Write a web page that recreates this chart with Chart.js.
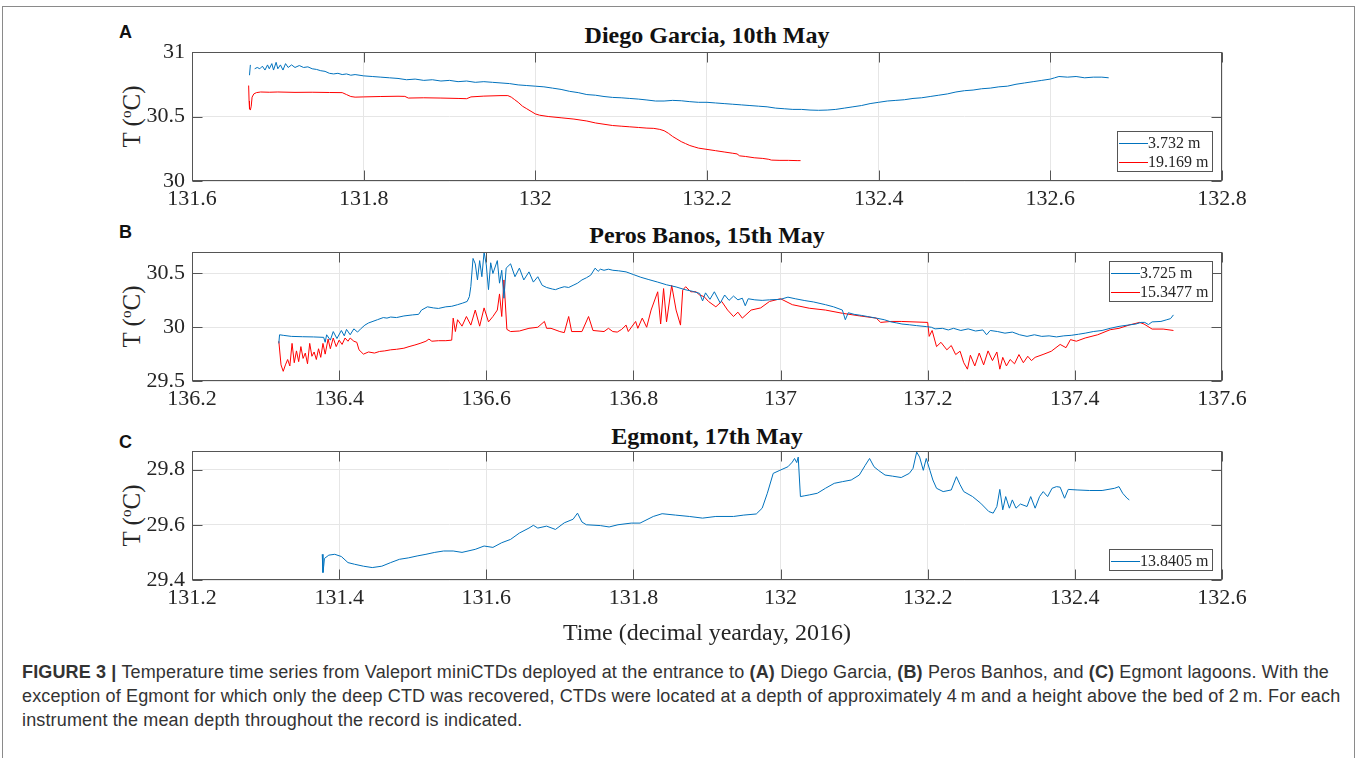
<!DOCTYPE html>
<html lang="en">
<head>
<meta charset="UTF-8" />
<title>Temperature time series</title>
<script src="https://cdn.jsdelivr.net/npm/chart.js"></script>
<style>
  body { margin: 0; width: 1358px; height: 758px; background: #fff; overflow: hidden; position: relative; font-family: "Liberation Serif", "Times New Roman", serif; color: #262626; }
  #frame { position: absolute; left: 2px; top: 6px; width: 1351px; height: 800px; border: 1px solid #8a8a8a; }
  .panel { position: absolute; left: 0; }
  .letter { position: absolute; font-family: "Liberation Sans", Arial, sans-serif; font-weight: bold; font-size: 18px; color: #111; }
  .title { position: absolute; left: 192px; width: 1030px; text-align: center; font-weight: bold; font-size: 24px; color: #111; line-height: 24px; }
  .ylab { position: absolute; width: 120px; text-align: center; font-size: 25px; line-height: 25px; transform: rotate(-90deg); transform-origin: center; }
  .ylab sup { font-size: 15px; vertical-align: 9px; line-height: 0; }
  #xlab { position: absolute; left: 192px; width: 1030px; top: 619px; text-align: center; font-size: 24px; line-height: 26px; }
  #caption { position: absolute; left: 22px; top: 660px; font-family: "Liberation Sans", Arial, sans-serif; font-size: 18px; letter-spacing: 0.15px; line-height: 24px; color: #333; white-space: nowrap; }
</style>
</head>
<body>
<div id="frame"></div>

<div class="letter" style="left:119px;top:22px;">A</div>
<div class="title" style="top:23px;">Diego Garcia, 10th May</div>
<div class="ylab" style="left:71px;top:104px;">T (<sup>o</sup>C)</div>
<canvas id="chartA" class="panel" width="1358" height="220" style="top:0px;"></canvas>

<div class="letter" style="left:119px;top:222px;">B</div>
<div class="title" style="top:223px;">Peros Banos, 15th May</div>
<div class="ylab" style="left:71px;top:304px;">T (<sup>o</sup>C)</div>
<canvas id="chartB" class="panel" width="1358" height="220" style="top:200px;"></canvas>

<div class="letter" style="left:119px;top:432px;">C</div>
<div class="title" style="top:424px;">Egmont, 17th May</div>
<div class="ylab" style="left:71px;top:503px;">T (<sup>o</sup>C)</div>
<canvas id="chartC" class="panel" width="1358" height="220" style="top:399px;"></canvas>

<div id="xlab">Time (decimal yearday, 2016)</div>

<div id="caption">
  <b>FIGURE 3 |</b> Temperature time series from Valeport miniCTDs deployed at the entrance to <b>(A)</b> Diego Garcia, <b>(B)</b> Peros Banhos, and <b>(C)</b> Egmont lagoons. With the<br>
  exception of Egmont for which only the deep CTD was recovered, CTDs were located at a depth of approximately 4&#8239;m and a height above the bed of 2&#8239;m. For each<br>
  instrument the mean depth throughout the record is indicated.
</div>

<script>
// ---- tick labels ----
const ticksA_x = [131.6, 131.8, 132, 132.2, 132.4, 132.6, 132.8];
const ticksA_y = [30, 30.5, 31];
const ticksB_x = [136.2, 136.4, 136.6, 136.8, 137, 137.2, 137.4, 137.6];
const ticksB_y = [29.5, 30, 30.5];
const ticksC_x = [131.2, 131.4, 131.6, 131.8, 132, 132.2, 132.4, 132.6];
const ticksC_y = [29.4, 29.6, 29.8];

// ---- A: Diego Garcia ----
const dgShallowTime = [131.667, 131.668, 131.670, 131.673, 131.676, 131.679, 131.682, 131.685, 131.688, 131.690,
  131.693, 131.695, 131.698, 131.700, 131.703, 131.706, 131.709, 131.712, 131.716, 131.720,
  131.725, 131.730, 131.735, 131.740, 131.745, 131.750, 131.755, 131.760, 131.765, 131.770,
  131.775, 131.780, 131.785, 131.790, 131.800, 131.810, 131.820, 131.830, 131.840, 131.850,
  131.860, 131.870, 131.880, 131.890, 131.900, 131.910, 131.920, 131.930, 131.940, 131.950,
  131.960, 131.970, 131.980, 131.990, 132.000, 132.010, 132.020, 132.030, 132.040, 132.050,
  132.060, 132.070, 132.080, 132.090, 132.100, 132.110, 132.120, 132.130, 132.140, 132.150,
  132.160, 132.170, 132.180, 132.190, 132.200, 132.210, 132.220, 132.230, 132.240, 132.250,
  132.260, 132.270, 132.280, 132.290, 132.300, 132.310, 132.320, 132.330, 132.340, 132.350,
  132.360, 132.370, 132.380, 132.390, 132.400, 132.410, 132.420, 132.430, 132.440, 132.450,
  132.460, 132.470, 132.480, 132.490, 132.500, 132.510, 132.520, 132.530, 132.540, 132.550,
  132.560, 132.570, 132.580, 132.590, 132.600, 132.605, 132.610, 132.620, 132.630, 132.640,
  132.650, 132.660, 132.668];
const dgShallowTemp = [30.82, 30.90, null, 30.87, 30.88, 30.87, 30.89, 30.86, 30.90, 30.87,
  30.91, 30.86, 30.92, 30.87, 30.90, 30.86, 30.91, 30.88, 30.90, 30.88,
  30.895, 30.88, 30.885, 30.87, 30.865, 30.855, 30.85, 30.835, 30.83, 30.835,
  30.825, 30.83, 30.82, 30.825, 30.815, 30.81, 30.805, 30.80, 30.795, 30.785,
  30.79, 30.78, 30.785, 30.775, 30.78, 30.77, 30.775, 30.765, 30.77, 30.765,
  30.76, 30.755, 30.745, 30.74, 30.735, 30.73, 30.72, 30.71, 30.695, 30.685,
  30.67, 30.665, 30.655, 30.648, 30.645, 30.64, 30.635, 30.628, 30.62, 30.62,
  30.625, 30.622, 30.615, 30.61, 30.61, 30.605, 30.60, 30.595, 30.59, 30.585,
  30.58, 30.575, 30.565, 30.56, 30.555, 30.555, 30.55, 30.548, 30.55, 30.555,
  30.565, 30.575, 30.585, 30.60, 30.61, 30.62, 30.625, 30.63, 30.64, 30.645,
  30.655, 30.665, 30.675, 30.69, 30.70, 30.705, 30.715, 30.72, 30.73, 30.735,
  30.75, 30.76, 30.77, 30.78, 30.79, 30.80, 30.81, 30.805, 30.81, 30.80,
  30.805, 30.805, 30.80];
const dgDeepTime = [131.666, 131.6665, 131.667, 131.668, 131.669, 131.670, 131.672, 131.675, 131.680, 131.690,
  131.700, 131.720, 131.740, 131.760, 131.775, 131.780, 131.785, 131.790, 131.800, 131.820,
  131.840, 131.848, 131.852, 131.870, 131.890, 131.910, 131.920, 131.925, 131.940, 131.960,
  131.968, 131.972, 131.976, 131.980, 131.985, 131.990, 131.995, 132.000, 132.005, 132.015,
  132.030, 132.045, 132.060, 132.070, 132.080, 132.090, 132.100, 132.110, 132.120, 132.130,
  132.138, 132.145, 132.150, 132.155, 132.160, 132.165, 132.170, 132.175, 132.180, 132.185,
  132.190, 132.200, 132.210, 132.220, 132.230, 132.235, 132.238, 132.245, 132.255, 132.265,
  132.272, 132.275, 132.285, 132.295, 132.305, 132.309];
const dgDeepTemp = [30.74, 30.62, 30.56, 30.55, 30.58, 30.65, 30.675, 30.685, 30.69, 30.688,
  30.69, 30.687, 30.688, 30.686, 30.685, 30.67, 30.655, 30.65, 30.652, 30.655,
  30.657, 30.656, 30.643, 30.645, 30.643, 30.64, 30.638, 30.652, 30.658, 30.662,
  30.662, 30.65, 30.63, 30.61, 30.58, 30.56, 30.54, 30.52, 30.51, 30.50,
  30.49, 30.48, 30.465, 30.45, 30.44, 30.43, 30.425, 30.42, 30.415, 30.41,
  30.408, 30.40, 30.39, 30.37, 30.345, 30.325, 30.305, 30.29, 30.275, 30.265,
  30.255, 30.245, 30.235, 30.225, 30.215, 30.21, 30.195, 30.19, 30.18, 30.175,
  30.168, 30.162, 30.16, 30.16, 30.158, 30.158];

// ---- B: Peros Banhos ----
const pbShallowTime = [136.318, 136.319, 136.324, 136.335, 136.350, 136.365, 136.379, 136.381, 136.383, 136.388,
  136.392, 136.397, 136.403, 136.407, 136.410, 136.415, 136.420, 136.425, 136.430, 136.435,
  136.440, 136.446, 136.452, 136.460, 136.465, 136.470, 136.478, 136.488, 136.500, 136.508,
  136.512, 136.520, 136.528, 136.535, 136.545, 136.553, 136.561, 136.568, 136.574, 136.577,
  136.579, 136.582, 136.585, 136.588, 136.591, 136.594, 136.597, 136.600, 136.603, 136.606,
  136.609, 136.615, 136.618, 136.621, 136.624, 136.627, 136.633, 136.639, 136.645, 136.651,
  136.658, 136.664, 136.670, 136.676, 136.682, 136.690, 136.694, 136.700, 136.706, 136.712,
  136.718, 136.724, 136.730, 136.736, 136.742, 136.748, 136.752, 136.755, 136.760, 136.766,
  136.772, 136.780, 136.790, 136.800, 136.810, 136.820, 136.833, 136.845, 136.858, 136.870,
  136.880, 136.890, 136.894, 136.898, 136.904, 136.910, 136.918, 136.924, 136.930, 136.936,
  136.942, 136.948, 136.952, 136.956, 136.965, 136.975, 136.985, 137.000, 137.010, 137.020,
  137.033, 137.045, 137.061, 137.072, 137.084, 137.088, 137.092, 137.100, 137.110, 137.118,
  137.130, 137.141, 137.150, 137.158, 137.165, 137.175, 137.185, 137.198, 137.205, 137.210,
  137.220, 137.228, 137.235, 137.245, 137.255, 137.265, 137.275, 137.280, 137.285, 137.295,
  137.305, 137.315, 137.325, 137.335, 137.345, 137.355, 137.365, 137.375, 137.385, 137.395,
  137.405, 137.414, 137.425, 137.437, 137.448, 137.460, 137.472, 137.483, 137.490, 137.495,
  137.500, 137.505, 137.517, 137.525, 137.530, 137.534];
const pbShallowTemp = [29.85, 29.93, 29.925, 29.915, 29.912, 29.91, 29.906, 29.86, 29.93, 29.88,
  29.96, 29.895, 29.97, 29.92, 29.98, 29.93, 29.985, 29.955, 29.99, 30.02,
  30.04, 30.055, 30.07, 30.09, 30.085, 30.095, 30.09, 30.105, 30.115, 30.12,
  30.16, 30.19, 30.18, 30.175, 30.19, 30.195, 30.21, 30.225, 30.24, 30.285,
  30.38, 30.64, 30.59, 30.44, 30.62, 30.47, 30.70, 30.58, 30.35, 30.60,
  30.50, 30.62, 30.41, 30.53, 30.27, 30.55, 30.59, 30.47, 30.55, 30.44,
  30.515, 30.42, 30.47, 30.39, 30.37, 30.355, 30.35, 30.365, 30.377, 30.37,
  30.39, 30.41, 30.44, 30.46, 30.485, 30.55, 30.52, 30.54, 30.53, 30.54,
  30.53, 30.525, 30.515, 30.49, 30.465, 30.445, 30.42, 30.395, 30.375, 30.35,
  30.335, 30.315, 30.245, 30.32, 30.26, 30.33, 30.225, 30.30, 30.25, 30.29,
  30.255, 30.27, 30.20, 30.265, 30.255, 30.25, 30.255, 30.26, 30.28, 30.265,
  30.248, 30.235, 30.21, 30.19, 30.16, 30.07, 30.135, 30.12, 30.11, 30.10,
  30.085, 30.07, 30.05, 30.04, 30.03, 30.023, 30.015, 30.006, 30.0, 29.985,
  29.99, 29.975, 29.99, 29.97, 29.985, 29.965, 29.975, 29.93, 29.97, 29.96,
  29.945, 29.955, 29.93, 29.915, 29.93, 29.915, 29.92, 29.91, 29.92, 29.925,
  29.935, 29.945, 29.96, 29.97, 29.99, 30.008, 30.02, 30.03, 30.045, 30.045,
  30.025, 30.05, 30.054, 30.07, 30.08, 30.115];
const pbDeepTime = [136.318, 136.321, 136.324, 136.327, 136.330, 136.333, 136.336, 136.339, 136.342, 136.345,
  136.348, 136.351, 136.354, 136.357, 136.360, 136.363, 136.366, 136.369, 136.372, 136.375,
  136.378, 136.381, 136.385, 136.388, 136.392, 136.396, 136.400, 136.404, 136.408, 136.412,
  136.415, 136.420, 136.424, 136.427, 136.433, 136.440, 136.448, 136.455, 136.462, 136.470,
  136.478, 136.488, 136.495, 136.503, 136.510, 136.518, 136.522, 136.526, 136.535, 136.545,
  136.553, 136.555, 136.558, 136.561, 136.567, 136.573, 136.579, 136.585, 136.591, 136.597,
  136.603, 136.609, 136.615, 136.618, 136.621, 136.624, 136.628, 136.633, 136.645, 136.658,
  136.670, 136.679, 136.682, 136.688, 136.700, 136.706, 136.712, 136.716, 136.730, 136.739,
  136.745, 136.760, 136.766, 136.772, 136.778, 136.784, 136.790, 136.793, 136.803, 136.806,
  136.812, 136.818, 136.824, 136.833, 136.837, 136.841, 136.845, 136.852, 136.858, 136.864,
  136.867, 136.871, 136.878, 136.885, 136.890, 136.896, 136.902, 136.912, 136.920, 136.928,
  136.936, 136.942, 136.948, 136.960, 136.973, 136.985, 137.000, 137.016, 137.039, 137.061,
  137.084, 137.107, 137.130, 137.136, 137.150, 137.164, 137.180, 137.200, 137.202, 137.206,
  137.212, 137.218, 137.226, 137.232, 137.238, 137.244, 137.249, 137.254, 137.258, 137.264,
  137.270, 137.276, 137.282, 137.288, 137.294, 137.298, 137.302, 137.307, 137.312, 137.318,
  137.324, 137.330, 137.336, 137.341, 137.346, 137.358, 137.368, 137.380, 137.388, 137.394,
  137.402, 137.414, 137.431, 137.448, 137.460, 137.475, 137.488, 137.494, 137.505, 137.520,
  137.534];
const pbDeepTemp = [29.87, 29.65, 29.59, 29.65, 29.70, 29.64, 29.85, 29.67, 29.78, 29.68,
  29.82, 29.71, 29.76, 29.66, 29.85, 29.73, 29.77, 29.70, 29.80, 29.72,
  29.85, 29.75, 29.89, 29.80, 29.90, 29.82, 29.88, 29.84, 29.90, 29.87,
  29.90, 29.87, 29.86, 29.79, 29.75, 29.77, 29.76, 29.775, 29.78, 29.79,
  29.795, 29.805, 29.82, 29.835, 29.85, 29.87, 29.89, 29.87, 29.875, 29.875,
  29.88, 30.085, 29.96, 30.07, 30.01, 30.10, 30.02, 30.16, 30.01, 30.18,
  30.05, 30.10, 30.16, 30.31, 30.10, 30.44, 29.98, 29.96, 29.965, 29.99,
  30.0, 30.054, 29.99, 29.99, 29.96, 29.95, 30.10, 29.96, 29.96, 30.10,
  29.97, 29.96, 29.99, 29.96, 29.955, 29.98, 30.02, 29.96, 30.054, 29.99,
  30.085, 30.0, 30.16, 30.33, 30.03, 30.36, 30.05, 30.39, 30.16, 30.02,
  30.346, 30.377, 30.33, 30.33, 30.30, 30.285, 30.24, 30.19, 30.24, 30.16,
  30.10, 30.14, 30.085, 30.16, 30.18, 30.24, 30.265, 30.21, 30.177, 30.16,
  30.13, 30.106, 30.085, 30.045, 30.054, 30.054, 30.05, 30.045, 29.915, 29.97,
  29.82, 29.86, 29.79, 29.83, 29.746, 29.777, 29.67, 29.61, 29.74, 29.64,
  29.76, 29.65, 29.78, 29.69, 29.77, 29.61, 29.72, 29.64, 29.70, 29.66,
  29.746, 29.67, 29.73, 29.69, 29.72, 29.75, 29.777, 29.84, 29.81, 29.885,
  29.87, 29.90, 29.93, 29.977, 29.99, 30.023, 30.045, 30.03, 29.983, 29.983,
  29.97];

// ---- C: Egmont ----
const egDeepTime = [131.377, 131.378, 131.379, 131.380, 131.386, 131.394, 131.403, 131.412, 131.421, 131.433,
  131.445, 131.458, 131.470, 131.482, 131.494, 131.506, 131.518, 131.530, 131.542, 131.555,
  131.567, 131.585, 131.597, 131.609, 131.621, 131.633, 131.645, 131.658, 131.664, 131.670,
  131.682, 131.694, 131.706, 131.718, 131.724, 131.730, 131.736, 131.755, 131.767, 131.779,
  131.797, 131.809, 131.827, 131.839, 131.857, 131.876, 131.894, 131.912, 131.936, 131.950,
  131.967, 131.975, 131.982, 131.990, 131.999, 132.010, 132.016, 132.019, 132.022, 132.024,
  132.027, 132.033, 132.039, 132.050, 132.061, 132.073, 132.084, 132.096, 132.107, 132.115,
  132.121, 132.127, 132.133, 132.142, 132.152, 132.164, 132.175, 132.180, 132.185, 132.189,
  132.194, 132.198, 132.203, 132.207, 132.212, 132.221, 132.232, 132.239, 132.244, 132.249,
  132.261, 132.272, 132.283, 132.289, 132.294, 132.298, 132.302, 132.306, 132.311, 132.315,
  132.320, 132.326, 132.335, 132.340, 132.346, 132.352, 132.357, 132.363, 132.369, 132.375,
  132.380, 132.386, 132.391, 132.403, 132.420, 132.437, 132.454, 132.460, 132.465, 132.471,
  132.474];
const egDeepTemp = [29.493, 29.427, 29.45, 29.478, 29.49, 29.493, 29.485, 29.463, 29.457, 29.45,
  29.445, 29.45, 29.463, 29.475, 29.48, 29.487, 29.493, 29.50, 29.505, 29.505,
  29.50, 29.511, 29.523, 29.518, 29.535, 29.547, 29.57, 29.588, 29.598, 29.588,
  29.595, 29.583, 29.607, 29.62, 29.642, 29.61, 29.60, 29.597, 29.592, 29.60,
  29.606, 29.606, 29.63, 29.64, 29.635, 29.63, 29.624, 29.63, 29.63, 29.635,
  29.639, 29.66, 29.714, 29.786, 29.797, 29.81, 29.827, 29.84, 29.825, 29.845,
  29.702, 29.705, 29.708, 29.714, 29.732, 29.75, 29.756, 29.762, 29.78, 29.815,
  29.84, 29.81, 29.797, 29.78, 29.776, 29.771, 29.786, 29.804, 29.863, 29.845,
  29.797, 29.84, 29.797, 29.762, 29.732, 29.72, 29.726, 29.774, 29.745, 29.72,
  29.702, 29.678, 29.648, 29.642, 29.666, 29.728, 29.654, 29.702, 29.66, 29.69,
  29.66, 29.675, 29.666, 29.702, 29.66, 29.702, 29.72, 29.702, 29.732, 29.738,
  29.736, 29.696, 29.728, 29.726, 29.724, 29.724, 29.732, 29.738, 29.714, 29.696,
  29.69];

const BLUE = '#0072BD';
const RED = '#FF0000';
const AXIS = '#555555';
const TEXT = '#262626';

// inward MATLAB-style ticks on all four sides, plus the box
const boxTicks = {
  id: 'boxTicks',
  afterDraw(chart) {
    const { ctx, chartArea: a, scales: { x, y } } = chart;
    const L = Math.round(a.left) + 0.5, R = Math.round(a.right) - 0.5;
    const T = Math.round(a.top) + 0.5, B = Math.round(a.bottom) - 0.5;
    ctx.save();
    ctx.strokeStyle = AXIS;
    ctx.lineWidth = 1;
    ctx.beginPath();
    x.ticks.forEach(t => {
      const px = Math.round(x.getPixelForValue(t.value)) + 0.5;
      ctx.moveTo(px, B); ctx.lineTo(px, B - 10);
      ctx.moveTo(px, T); ctx.lineTo(px, T + 10);
    });
    y.ticks.forEach(t => {
      const py = Math.round(y.getPixelForValue(t.value)) + 0.5;
      ctx.moveTo(L, py); ctx.lineTo(L + 10, py);
      ctx.moveTo(R, py); ctx.lineTo(R - 10, py);
    });
    ctx.stroke();
    ctx.strokeRect(L, T, R - L, B - T);
    ctx.restore();
  }
};

// boxed legend inside the plot area, corner chosen per chart
const boxLegend = {
  id: 'boxLegend',
  afterDraw(chart, args, opts) {
    const { ctx, chartArea: a } = chart;
    const sets = chart.data.datasets;
    ctx.save();
    ctx.font = '16px "Liberation Serif", "Times New Roman", serif';
    const textW = Math.max(...sets.map(d => ctx.measureText(d.label).width));
    const rowH = 19;
    const w = Math.round(2 + 29 + textW + 5);
    const h = sets.length * rowH + 3;
    const right = Math.round(a.right) - 9;
    const left = right - w;
    const top = opts.corner === 'top' ? Math.round(a.top) + 9 : Math.round(a.bottom) - 9 - h;
    ctx.fillStyle = '#fff';
    ctx.fillRect(left, top, w, h);
    ctx.strokeStyle = AXIS;
    ctx.lineWidth = 1;
    ctx.strokeRect(left + 0.5, top + 0.5, w - 1, h - 1);
    sets.forEach((d, i) => {
      const cy = top + 2 + rowH * i + rowH / 2;
      ctx.strokeStyle = d.borderColor;
      ctx.beginPath();
      ctx.moveTo(left + 2, Math.round(cy) + 0.5);
      ctx.lineTo(left + 31, Math.round(cy) + 0.5);
      ctx.stroke();
      ctx.fillStyle = TEXT;
      ctx.textBaseline = 'middle';
      ctx.fillText(d.label, left + 31, cy + 1);
    });
    ctx.restore();
  }
};

function series(label, times, temps, color) {
  return {
    label,
    data: times.map((t, i) => ({ x: t, y: temps[i] })),
    borderColor: color,
    borderWidth: 1,
    pointRadius: 0,
    tension: 0,
    spanGaps: false
  };
}

function makeChart(id, datasets, xr, yr, xTicks, yTicks, corner) {
  const tickFont = { family: '"Liberation Serif", "Times New Roman", serif', size: 22 };
  const fmt = v => String(Math.round(v * 10) / 10);
  return new Chart(document.getElementById(id), {
    type: 'line',
    data: { datasets },
    options: {
      responsive: false,
      animation: false,
      devicePixelRatio: 1,
      layout: { padding: { left: 0, top: 52, right: 136, bottom: 0 } },
      plugins: {
        legend: { display: false },
        tooltip: { enabled: false },
        boxLegend: { corner }
      },
      scales: {
        x: {
          type: 'linear', min: xr[0], max: xr[1],
          afterBuildTicks: s => { s.ticks = xTicks.map(v => ({ value: v })); },
          afterFit: s => { s.height = 39; },
          grid: { color: '#e6e6e6', drawTicks: false },
          border: { display: false },
          ticks: { font: tickFont, color: TEXT, padding: 5, maxRotation: 0, autoSkip: false, callback: fmt }
        },
        y: {
          type: 'linear', min: yr[0], max: yr[1],
          afterBuildTicks: s => { s.ticks = yTicks.map(v => ({ value: v })); },
          afterFit: s => { s.width = 192; },
          grid: { color: '#e6e6e6', drawTicks: false },
          border: { display: false },
          ticks: { font: tickFont, color: TEXT, padding: 7, callback: fmt }
        }
      }
    },
    plugins: [boxTicks, boxLegend]
  });
}

makeChart('chartA', [
  series('3.732 m', dgShallowTime, dgShallowTemp, BLUE),
  series('19.169 m', dgDeepTime, dgDeepTemp, RED)
], [131.6, 132.8], [30, 31], ticksA_x, ticksA_y, 'bottom');

makeChart('chartB', [
  series('3.725 m', pbShallowTime, pbShallowTemp, BLUE),
  series('15.3477 m', pbDeepTime, pbDeepTemp, RED)
], [136.2, 137.6], [29.5, 30.7], ticksB_x, ticksB_y, 'top');

makeChart('chartC', [
  series('13.8405 m', egDeepTime, egDeepTemp, BLUE)
], [131.2, 132.6], [29.4, 29.867], ticksC_x, ticksC_y, 'bottom');
</script>
</body>
</html>
